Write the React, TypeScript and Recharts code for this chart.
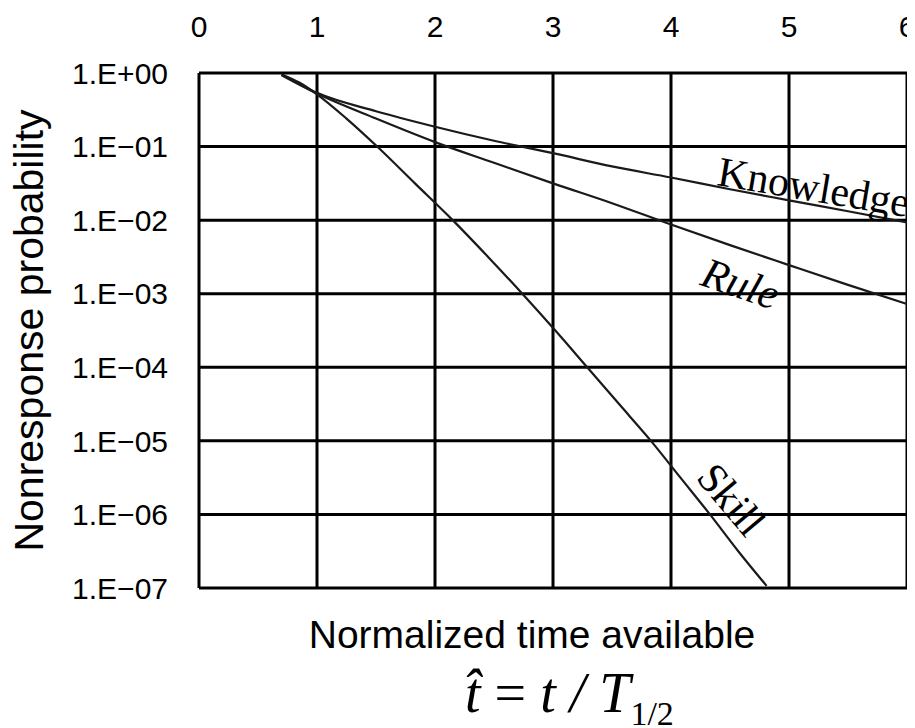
import React from 'react';
import { LineChart, Line, XAxis, YAxis, CartesianGrid, ReferenceDot, Label } from 'recharts';

// ---- data ----
const xTicks = [0, 1, 2, 3, 4, 5, 6];
const yTicks = [1, 1e-1, 1e-2, 1e-3, 1e-4, 1e-5, 1e-6, 1e-7];
const yTickLabels = ['1.E+00', '1.E\u221201', '1.E\u221202', '1.E\u221203', '1.E\u221204', '1.E\u221205', '1.E\u221206', '1.E\u221207'];

const knowledgeT = [0.7, 1, 1.5, 2, 2.5, 3, 3.5, 4, 4.5, 5, 5.5, 6];
const knowledgeP = [0.955, 0.537, 0.302, 0.186, 0.12, 0.0813, 0.0537, 0.038, 0.0263, 0.0186, 0.0132, 0.00933];

const ruleT = [0.7, 1, 1.5, 2, 2.5, 3, 3.5, 4, 4.5, 5, 5.5, 6];
const ruleP = [0.933, 0.525, 0.24, 0.115, 0.0603, 0.0316, 0.017, 0.00871, 0.00457, 0.00245, 0.00132, 0.000724];

const skillT = [0.7, 0.85, 1, 1.25, 1.51, 1.83, 2.15, 2.45, 2.74, 3.02, 3.29, 3.56, 3.83, 4.08, 4.33, 4.57, 4.81];
const skillP = [0.955, 0.741, 0.513, 0.24, 0.1, 0.0316, 0.01, 0.00316, 0.001, 3.16e-4, 1e-4, 3.16e-5, 1e-5, 3.16e-6, 1e-6, 3.16e-7, 1.07e-7];

const tagNames = ['Knowledge', 'Rule', 'Skill'];
const tagT = [5.19, 4.55, 4.42];
const tagP = [0.0182, 0.000895, 1.2e-6];

const xAxisTitle = 'Normalized time available';
const yAxisTitle = 'Nonresponse probability';

const toRows = (ts: number[], ps: number[]) => ts.map((t, i) => ({ t, p: ps[i] }));
const knowledgeData = toRows(knowledgeT, knowledgeP);
const ruleData = toRows(ruleT, ruleP);
const skillData = toRows(skillT, skillP);

const tagStyles = [
  { angle: 9.5, italic: false, size: 42 },
  { angle: 19, italic: true, size: 43 },
  { angle: 50, italic: false, size: 42 },
];

const makeTag = (idx: number) => (props: any) => {
  const { cx, cy } = props;
  const s = tagStyles[idx];
  return (
    <text
      x={cx}
      y={cy}
      transform={`rotate(${s.angle}, ${cx}, ${cy})`}
      textAnchor="middle"
      fontFamily="'Liberation Serif', 'DejaVu Serif', serif"
      fontStyle={s.italic ? 'italic' : 'normal'}
      fontSize={s.size}
      fill="#000"
    >
      {tagNames[idx]}
    </text>
  );
};

const YTitle = (props: any) => {
  const vb = props.viewBox || { x: 0, y: 65, width: 191, height: 515 };
  const x = vb.x + 35;
  const y = vb.y + vb.height / 2;
  return (
    <text
      x={x}
      y={y}
      transform={`rotate(-90, ${x}, ${y})`}
      textAnchor="middle"
      fontFamily="'Liberation Sans', Arial, sans-serif"
      fontSize={41}
      fill="#000"
    >
      {yAxisTitle}
    </text>
  );
};

const XTitle = (props: any) => {
  const vb = props.viewBox || { x: 191, y: 580, width: 708, height: 140 };
  const cx = vb.x + vb.width / 2 - 21;
  return (
    <g>
      <text
        x={cx}
        y={vb.y + 60}
        textAnchor="middle"
        fontFamily="'Liberation Sans', Arial, sans-serif"
        fontSize={39}
        fill="#000"
      >
        {xAxisTitle}
      </text>
      <text
        x={vb.x + 266}
        y={vb.y + 124}
        textAnchor="start"
        fontFamily="'Liberation Serif', 'DejaVu Serif', serif"
        fontStyle="italic"
        fontSize={56}
        fill="#000"
      >
        <tspan>{'t\u0302'}</tspan>
        <tspan fontStyle="normal">{' = '}</tspan>
        <tspan>{'t / T'}</tspan>
        <tspan fontSize={34} dy={13} fontStyle="normal">{'1/2'}</tspan>
      </text>
    </g>
  );
};

export default function App() {
  return (
    <LineChart
      width={907}
      height={720}
      margin={{ top: 0, right: 8, bottom: 0, left: 0 }}
      style={{ background: '#fff' }}
    >
      <CartesianGrid stroke="#000" strokeWidth={3} />
      <XAxis
        dataKey="t"
        type="number"
        orientation="top"
        domain={[0, 6]}
        ticks={xTicks}
        height={65}
        axisLine={false}
        tickLine={false}
        tickSize={0}
        tickMargin={36}
        allowDataOverflow
        tick={{ fontSize: 30, fill: '#000', fontFamily: "'Liberation Sans', Arial, sans-serif" }}
      />
      <XAxis
        xAxisId="bottom"
        type="number"
        orientation="bottom"
        domain={[0, 6]}
        height={140}
        axisLine={false}
        tickLine={false}
        tick={false}
      >
        <Label content={<XTitle />} />
      </XAxis>
      <YAxis
        type="number"
        scale="log"
        domain={[1e-7, 1]}
        ticks={yTicks}
        width={191}
        axisLine={false}
        tickLine={false}
        tickSize={0}
        tickMargin={31}
        allowDataOverflow
        tickFormatter={(v: number) => {
          const i = yTicks.findIndex((t) => Math.abs(Math.log10(t) - Math.log10(v)) < 1e-6);
          return i >= 0 ? yTickLabels[i] : '';
        }}
        tick={{ fontSize: 30, fill: '#000', fontFamily: "'Liberation Sans', Arial, sans-serif" }}
      >
        <Label content={<YTitle />} />
      </YAxis>
      <Line data={knowledgeData} dataKey="p" type="monotone" stroke="#1a1a1a" strokeWidth={2.2} dot={false} isAnimationActive={false} />
      <Line data={ruleData} dataKey="p" type="monotone" stroke="#1a1a1a" strokeWidth={2.2} dot={false} isAnimationActive={false} />
      <Line data={skillData} dataKey="p" type="monotone" stroke="#1a1a1a" strokeWidth={2.2} dot={false} isAnimationActive={false} />
      {tagNames.map((n, i) => (
        <ReferenceDot key={n} x={tagT[i]} y={tagP[i]} r={0} ifOverflow="visible" shape={makeTag(i)} />
      ))}
    </LineChart>
  );
}
